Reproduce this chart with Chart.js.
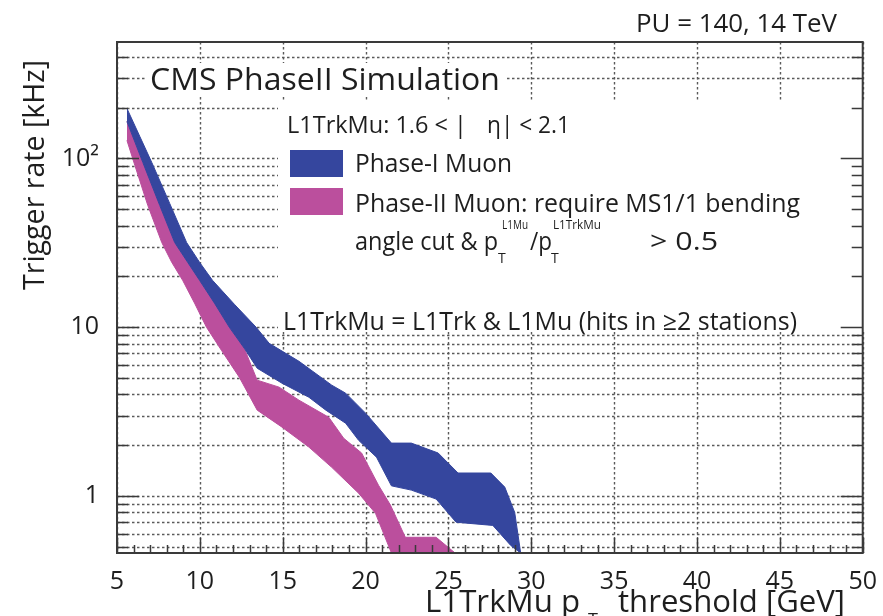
<!DOCTYPE html>
<html><head><meta charset="utf-8">
<script src="https://cdn.jsdelivr.net/npm/chart.js@4.4.1/dist/chart.umd.min.js"></script>
<style>html,body{margin:0;padding:0;background:#fff;}canvas{display:block;}</style>
</head><body>
<canvas id="c" width="883" height="616"></canvas>
<script>
// ---- tick / grid values ----
const xTickValues = [5, 10, 15, 20, 25, 30, 35, 40, 45, 50];
const yGridValues = [0.5,0.6,0.7,0.8,0.9,1,2,3,4,5,6,7,8,9,10,20,30,40,50,60,70,80,90,100,200,300,400];
const yTickLabels = {1: '1', 10: '10', 100: '10\u00B2'};

// ---- Phase-I Muon band (blue) ----
const phase1UpperX = [5.6, 6.38, 7.1, 8.18, 9.2, 9.98, 10.76, 12.08, 13.4, 14.18, 15.98, 17.96, 18.8, 20.0, 21.56, 22.76, 24.38, 25.58, 27.56, 28.4, 29.0, 29.36];
const phase1UpperY = [198, 134.9, 94.7, 54.2, 31.8, 24.3, 19.0, 13.7, 10.0, 8.04, 6.29, 4.54, 4.07, 3.10, 2.06, 2.06, 1.80, 1.37, 1.37, 1.13, 0.80, 0.46];
const phase1LowerX = [5.6, 6.56, 7.58, 8.48, 9.26, 9.98, 10.88, 11.78, 12.68, 13.46, 14.96, 16.58, 17.6, 18.8, 19.58, 20.66, 21.56, 22.76, 24.26, 25.46, 27.68, 28.76, 29.36];
const phase1LowerY = [165.6, 94.7, 52.7, 31.8, 24.3, 19.0, 13.9, 10.0, 7.51, 5.72, 4.66, 3.85, 3.23, 2.70, 2.14, 1.70, 1.15, 1.085, 0.96, 0.70, 0.67, 0.51, 0.46];

// ---- Phase-II Muon band (magenta) ----
const phase2UpperX = [5.6, 6.56, 7.58, 8.48, 9.26, 9.98, 10.88, 11.78, 12.68, 13.46, 14.78, 15.98, 17.78, 18.68, 19.76, 20.78, 21.5, 22.4, 24.26, 25.4];
const phase2UpperY = [165.6, 94.7, 52.7, 31.8, 24.3, 19.0, 13.9, 10.0, 7.51, 4.86, 4.42, 3.70, 2.93, 2.20, 1.80, 1.16, 0.885, 0.57, 0.57, 0.46];
const phase2LowerX = [5.6, 6.08, 6.86, 7.7, 8.3, 8.96, 9.68, 10.4, 11.3, 12.38, 13.46, 14.96, 16.58, 17.96, 19.58, 20.6, 21.56, 25.4];
const phase2LowerY = [128, 90.9, 52.7, 31.8, 24.3, 19.0, 13.9, 10.0, 7.31, 5.06, 3.23, 2.56, 1.95, 1.48, 1.04, 0.79, 0.46, 0.46];

const FONT = "'Open Sans', 'Noto Sans', sans-serif";
const BLUE = '#35469e';
const PINK = '#bb4f9d';
const INK = '#1e1e1e';
const GRID = '#5a5a5a';

function pts(xs, ys) { return xs.map((x, i) => ({x: x, y: ys[i]})); }

function txt(ctx, s, x, y, size, width, rot) {
  ctx.save();
  ctx.font = size + 'px ' + FONT;
  ctx.fillStyle = INK;
  ctx.textBaseline = 'alphabetic';
  ctx.textAlign = 'left';
  const w = ctx.measureText(s).width;
  const sx = width ? width / w : 1;
  ctx.translate(x, y);
  if (rot) ctx.rotate(rot);
  ctx.scale(sx, 1);
  ctx.fillText(s, 0, 0);
  ctx.restore();
}

const decor = {
  id: 'decor',
  beforeDatasetsDraw(chart) {
    const ctx = chart.ctx;
    const a = chart.chartArea;
    const xs = chart.scales.x, ys = chart.scales.y;
    ctx.save();
    ctx.strokeStyle = GRID;
    ctx.lineWidth = 1.4;
    ctx.setLineDash([2.5, 2.5]);
    xTickValues.forEach(v => {
      const p = Math.round(xs.getPixelForValue(v)) + 0.5;
      ctx.beginPath();
      ctx.moveTo(p, a.top); ctx.lineTo(p, a.bottom);
      ctx.stroke();
    });
    yGridValues.forEach(v => {
      const p = Math.round(ys.getPixelForValue(v)) + 0.5;
      ctx.beginPath();
      ctx.moveTo(a.left, p); ctx.lineTo(a.right, p);
      ctx.stroke();
    });
    ctx.restore();
    ctx.save();
    ctx.fillStyle = '#ffffff';
    ctx.fillRect(278, 102, 866 - 278, 332 - 102);
    ctx.fillRect(147, 63, 505 - 147, 33);
    ctx.restore();
  },
  afterDatasetsDraw(chart) {
    const ctx = chart.ctx;
    const a = chart.chartArea;
    const xs = chart.scales.x, ys = chart.scales.y;
    ctx.save();
    ctx.strokeStyle = '#3a3a3a';
    ctx.lineWidth = 1.5;
    ctx.beginPath();
    yGridValues.forEach(v => {
      const p = Math.round(ys.getPixelForValue(v)) + 0.5;
      const major = (v === 1 || v === 10 || v === 100);
      const len = major ? 22 : 11;
      ctx.moveTo(a.left, p); ctx.lineTo(a.left + len, p);
      ctx.moveTo(a.right, p); ctx.lineTo(a.right - len, p);
    });
    for (let v = 5; v <= 50; v++) {
      const p = Math.round(xs.getPixelForValue(v)) + 0.5;
      const len = (v % 5 === 0) ? 15 : 8;
      ctx.moveTo(p, a.bottom); ctx.lineTo(p, a.bottom - len);
    }
    ctx.stroke();
    ctx.lineWidth = 2;
    ctx.strokeRect(a.left, a.top, a.right - a.left, a.bottom - a.top);
    ctx.restore();

    ctx.save();
    ctx.fillStyle = BLUE; ctx.fillRect(290, 150, 53, 27);
    ctx.fillStyle = PINK; ctx.fillRect(290, 188, 53, 27);
    ctx.restore();
  },
  afterDraw(chart) {
    const ctx = chart.ctx;
    txt(ctx, 'PU = 140, 14 TeV', 636, 32, 25, 201);
    txt(ctx, 'CMS PhaseII Simulation', 150, 90, 31, 350);
    txt(ctx, 'L1TrkMu: 1.6 < |', 287, 133, 24, 180);
    txt(ctx, '\u03B7| < 2.1', 487, 133, 24, 83);
    txt(ctx, 'Phase-I Muon', 355, 172, 25, 157);
    txt(ctx, 'Phase-II Muon: require MS1/1 bending', 355, 212, 25, 445);
    txt(ctx, 'angle cut & p', 355, 250, 25, 143);
    txt(ctx, 'L1Mu', 502, 229, 13, 26);
    txt(ctx, 'T', 498, 263, 14);
    txt(ctx, '/p', 530, 250, 25, 22);
    txt(ctx, 'L1TrkMu', 553, 229, 13, 48);
    txt(ctx, 'T', 551, 263, 14);
    txt(ctx, '> 0.5', 650, 250, 25, 68);
    txt(ctx, 'L1TrkMu = L1Trk & L1Mu (hits in \u22652 stations)', 283, 330, 25, 514);
    txt(ctx, 'Trigger rate [kHz]', 44, 290, 29, 230, -Math.PI / 2);
    txt(ctx, 'L1TrkMu p', 425, 612, 31, 155);
    txt(ctx, 'T', 588, 626, 18);
    txt(ctx, 'threshold [GeV]', 618, 612, 31, 227);
  }
};

const ctx = document.getElementById('c').getContext('2d');
new Chart(ctx, {
  type: 'line',
  data: {
    datasets: [
      {label: 'Phase-I Muon (upper)', data: pts(phase1UpperX, phase1UpperY), borderColor: BLUE, backgroundColor: BLUE, borderWidth: 1, pointRadius: 0, tension: 0, fill: false, order: 0},
      {label: 'Phase-I Muon (lower)', data: pts(phase1LowerX, phase1LowerY), borderColor: BLUE, backgroundColor: BLUE, borderWidth: 1, pointRadius: 0, tension: 0, fill: '-1', order: 0},
      {label: 'Phase-II Muon (upper)', data: pts(phase2UpperX, phase2UpperY), borderColor: PINK, backgroundColor: PINK, borderWidth: 1, pointRadius: 0, tension: 0, fill: false, order: 1},
      {label: 'Phase-II Muon (lower)', data: pts(phase2LowerX, phase2LowerY), borderColor: PINK, backgroundColor: PINK, borderWidth: 1, pointRadius: 0, tension: 0, fill: '-1', order: 1}
    ]
  },
  options: {
    responsive: false,
    animation: false,
    devicePixelRatio: 1,
    layout: {padding: {left: 0, right: 16, top: 42, bottom: 0}},
    plugins: {legend: {display: false}, tooltip: {enabled: false}, filler: {propagate: false}},
    scales: {
      x: {
        type: 'linear', min: 5, max: 50,
        afterFit(s) { s.height = 63; },
        afterBuildTicks(s) { s.ticks = xTickValues.map(v => ({value: v})); },
        ticks: {font: {family: FONT, size: 25}, color: INK, padding: 6, maxRotation: 0, autoSkip: false},
        grid: {display: false},
        border: {display: false}
      },
      y: {
        type: 'logarithmic', min: 0.46, max: 490,
        afterFit(s) { s.width = 117; },
        afterBuildTicks(s) { s.ticks = yGridValues.map(v => ({value: v})); },
        ticks: {callback: v => (yTickLabels[v] || ''), font: {family: FONT, size: 25}, color: INK, padding: 10, autoSkip: false},
        grid: {display: false},
        border: {display: false}
      }
    }
  },
  plugins: [decor]
});
</script>
</body></html>
